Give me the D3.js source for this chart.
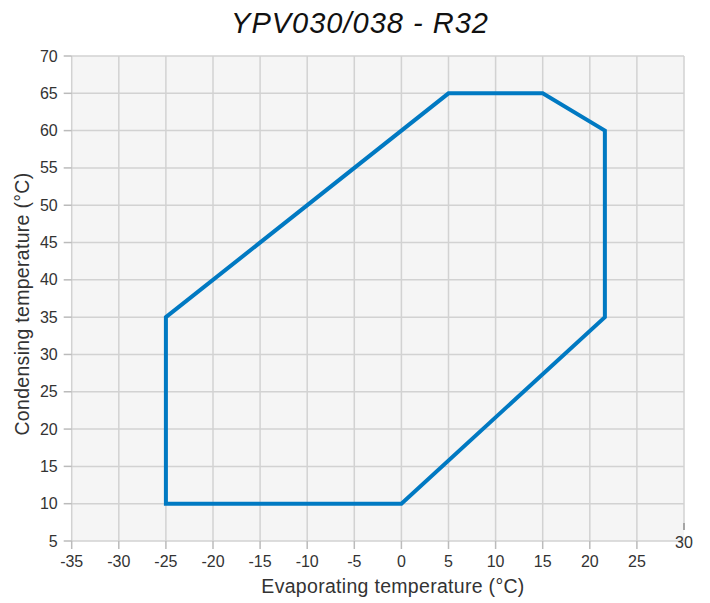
<!DOCTYPE html>
<html><head><meta charset="utf-8">
<script src="https://cdn.jsdelivr.net/npm/d3@7"></script>
<style>body{margin:0;background:#fff;font-family:"Liberation Sans",Arial,sans-serif}</style>
</head><body><svg id="c" width="710" height="603"></svg>
<script>
const title = "YPV030/038 - R32";
const xLabel = "Evaporating temperature (°C)";
const yLabel = "Condensing temperature (°C)";
const xTicks = [-35,-30,-25,-20,-15,-10,-5,0,5,10,15,20,25,30];
const yTicks = [5,10,15,20,25,30,35,40,45,50,55,60,65,70];
const evap = [-25, 5, 15, 21.6, 21.6, 0, -25, -25];
const cond = [35, 65, 65, 60, 35, 10, 10, 35];

const svg = d3.select("#c");
const L=71.7, R=684, T=56, B=541;
const x = d3.scaleLinear().domain([-35,30]).range([L,R]);
const y = d3.scaleLinear().domain([5,70]).range([B,T]);

svg.append("rect").attr("x",L).attr("y",T).attr("width",R-L).attr("height",B-T).attr("fill","#f5f5f5");
const g = svg.append("g");
g.selectAll(".vx").data(xTicks).join("line").attr("x1",d=>x(d)).attr("x2",d=>x(d))
 .attr("y1",T).attr("y2",d=>d===30?523:B).attr("stroke","#d2d2d2").attr("stroke-width",1.5);
g.selectAll(".hy").data(yTicks).join("line").attr("y1",d=>y(d)).attr("y2",d=>y(d))
 .attr("x1",L).attr("x2",R).attr("stroke","#d2d2d2").attr("stroke-width",1.5);
g.selectAll(".ty").data(yTicks).join("line").attr("y1",d=>y(d)).attr("y2",d=>y(d))
 .attr("x1",L-8).attr("x2",L).attr("stroke","#bbb").attr("stroke-width",1.5);
g.selectAll(".tyl").data(yTicks).join("text").attr("x",L-14).attr("y",d=>y(d)+5.5)
 .attr("text-anchor","end").attr("font-size",16).attr("fill","#333").text(d=>d);
g.selectAll(".tx").data(xTicks.filter(d=>d!==30)).join("line").attr("x1",d=>x(d)).attr("x2",d=>x(d))
 .attr("y1",B).attr("y2",B+8).attr("stroke","#bbb").attr("stroke-width",1.5);
g.selectAll(".txl").data(xTicks.filter(d=>d!==30)).join("text").attr("x",d=>x(d)).attr("y",B+26)
 .attr("text-anchor","middle").attr("font-size",16).attr("fill","#333").text(d=>d);
g.append("line").attr("x1",x(30)).attr("x2",x(30)).attr("y1",523).attr("y2",530).attr("stroke","#888").attr("stroke-width",1.5);
g.append("text").attr("x",x(30)).attr("y",B+7).attr("text-anchor","middle").attr("font-size",16).attr("fill","#333").text(30);

const line = d3.line().x(d=>x(d[0])).y(d=>y(d[1]));
svg.append("path").attr("d",line(evap.map((e,i)=>[e,cond[i]]))+"Z").attr("fill","none")
 .attr("stroke","#0079c2").attr("stroke-width",4).attr("stroke-linejoin","miter");

svg.append("text").attr("x",360).attr("y",33).attr("text-anchor","middle").attr("font-size",29)
 .attr("font-style","italic").attr("letter-spacing",1).attr("fill","#111").text(title);
svg.append("text").attr("x",393).attr("y",593).attr("text-anchor","middle").attr("font-size",19.5).attr("letter-spacing",0.3).attr("fill","#333").text(xLabel);
svg.append("text").attr("transform","translate(29,304) rotate(-90)").attr("text-anchor","middle").attr("font-size",19.5).attr("letter-spacing",0.3).attr("fill","#333").text(yLabel);
</script></body></html>
